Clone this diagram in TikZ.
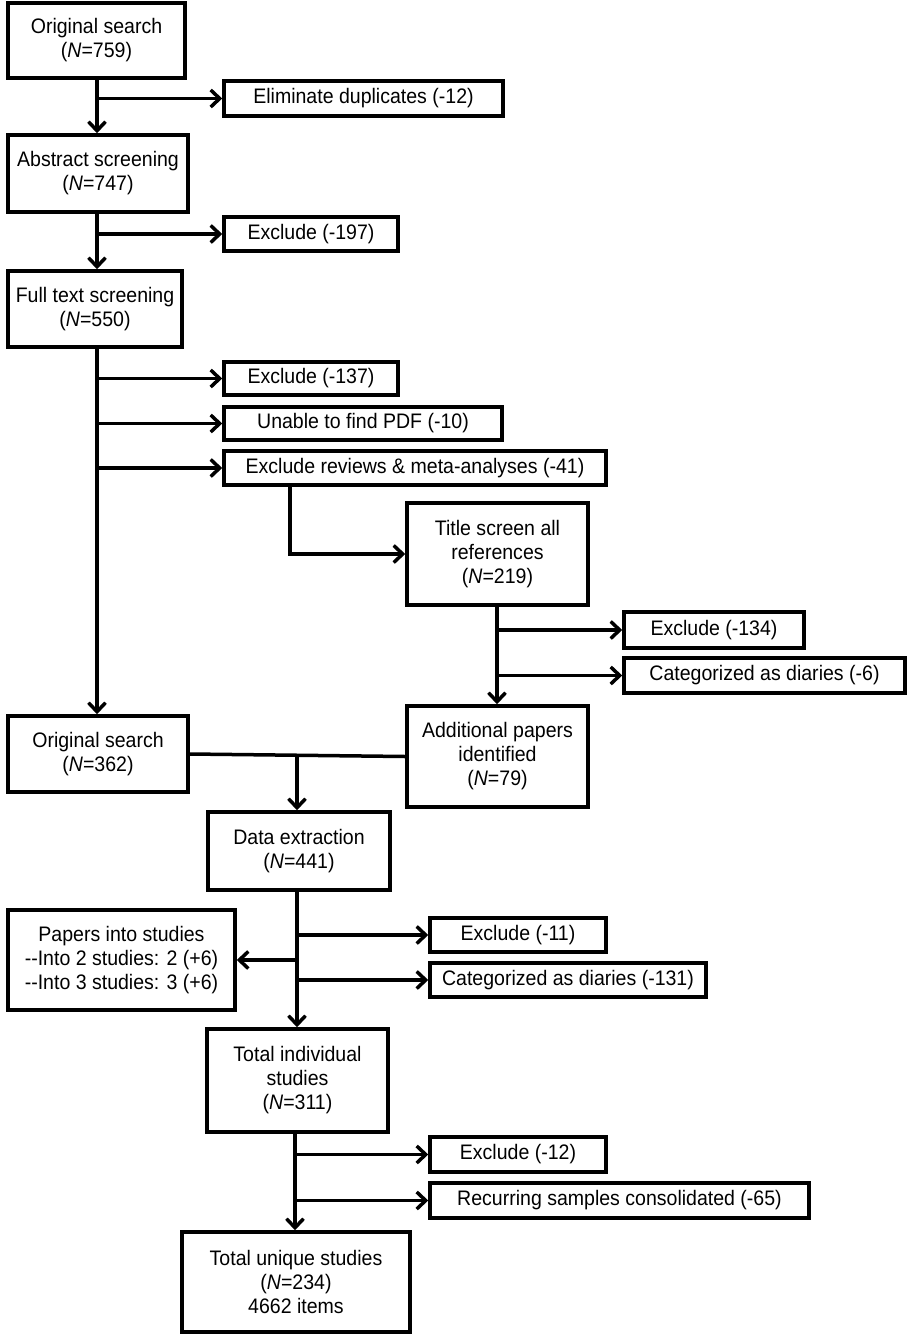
\documentclass[tikz,border=0pt]{standalone}
\usepackage{fontspec}
\setmainfont{Liberation Sans}[FakeStretch=0.93]
\usetikzlibrary{arrows.meta}
\begin{document}
\begin{tikzpicture}[x=1pt,y=-1pt,
  box/.style={draw, line width=3.5pt, align=center, inner sep=0pt,
    font=\fontsize{21}{24}\selectfont},
  conn/.style={line width=3.5pt},
  arr/.style={line width=3.5pt, -{Straight Barb[length=9pt,width=17pt]}}]
\useasboundingbox (0,0) rectangle (909,1339);
\fill[white] (0,0) rectangle (909,1339);
% boxes
\node[box, minimum width=177, minimum height=75] (A) at (96.5,40.5) {Original search\\(\textit{N}=759)};
\node[box, minimum width=279, minimum height=35] (dup) at (363.5,98.5) {Eliminate duplicates (-12)};
\node[box, minimum width=180, minimum height=77] (B) at (98,173.5) {Abstract screening\\(\textit{N}=747)};
\node[box, minimum width=174, minimum height=34] (ex197) at (311,234) {Exclude (-197)};
\node[box, minimum width=174, minimum height=76] (C) at (95,309) {Full text screening\\(\textit{N}=550)};
\node[box, minimum width=174, minimum height=33] (ex137) at (311,378.5) {Exclude (-137)};
\node[box, minimum width=278, minimum height=33] (pdf) at (363,423.5) {Unable to find PDF (-10)};
\node[box, minimum width=382, minimum height=34] (rev) at (415,468) {Exclude reviews \& meta-analyses (-41)};
\node[box, minimum width=181, minimum height=102] (title) at (497.5,554) {Title screen all\\references\\(\textit{N}=219)};
\node[box, minimum width=180, minimum height=36] (ex134) at (714,630) {Exclude (-134)};
\node[box, minimum width=281, minimum height=35] (diar6) at (764.5,675.5) {Categorized as diaries (-6)};
\node[box, minimum width=181, minimum height=101] (add) at (497.5,756.5) {Additional papers\\identified\\(\textit{N}=79)};
\node[box, minimum width=180, minimum height=76] (os) at (98,754) {Original search\\(\textit{N}=362)};
\node[box, minimum width=182, minimum height=78] (data) at (299,851) {Data extraction\\(\textit{N}=441)};
\node[box, minimum width=176, minimum height=34] (ex11) at (518,935) {Exclude (-11)};
\node[box, minimum width=276, minimum height=34] (diar131) at (568,980) {Categorized as diaries (-131)};
\node[box, minimum width=227, minimum height=100] (papers) at (121.5,960) {Papers into studies\\-{}-Into 2 studies: 2 (+6)\\-{}-Into 3 studies: 3 (+6)};
\node[box, minimum width=181, minimum height=103] (tis) at (297.5,1080.5) {Total individual\\studies\\(\textit{N}=311)};
\node[box, minimum width=176, minimum height=35] (ex12) at (518,1154.5) {Exclude (-12)};
\node[box, minimum width=379, minimum height=35] (rec) at (619.5,1200.5) {Recurring samples consolidated (-65)};
\node[box, minimum width=228, minimum height=100] (tus) at (296,1282) {Total unique studies\\(\textit{N}=234)\\4662 items};
% helper coordinates
\coordinate (t1) at (97,0);
\coordinate (rv) at (290,0);
\coordinate (t2) at (497,0);
\coordinate (t3) at (297,0);
\coordinate (t4) at (295,0);
% connectors
\draw[arr] (A.south -| t1) -- (B.north -| t1);
\draw[arr] (dup.west -| t1) -- (dup.west);
\draw[arr] (B.south -| t1) -- (C.north -| t1);
\draw[arr] (ex197.west -| t1) -- (ex197.west);
\draw[arr] (C.south -| t1) -- (os.north -| t1);
\draw[arr] (ex137.west -| t1) -- (ex137.west);
\draw[arr] (pdf.west -| t1) -- (pdf.west);
\draw[arr] (rev.west -| t1) -- (rev.west);
\draw[arr] (rev.south -| rv) |- (title.west);
\draw[arr] (title.south -| t2) -- (add.north -| t2);
\draw[arr] (ex134.west -| t2) -- (ex134.west);
\draw[arr] (diar6.west -| t2) -- (diar6.west);
\draw[conn] (os.east) -- (add.west);
\draw[arr] (os.east -| t3) -- (data.north -| t3);
\draw[arr] (data.south -| t3) -- (tis.north -| t3);
\draw[arr] (ex11.west -| t3) -- (ex11.west);
\draw[arr] (diar131.west -| t3) -- (diar131.west);
\draw[arr] (papers.east -| t3) -- (papers.east);
\draw[arr] (tis.south -| t4) -- (tus.north -| t4);
\draw[arr] (ex12.west -| t4) -- (ex12.west);
\draw[arr] (rec.west -| t4) -- (rec.west);
\end{tikzpicture}
\end{document}
